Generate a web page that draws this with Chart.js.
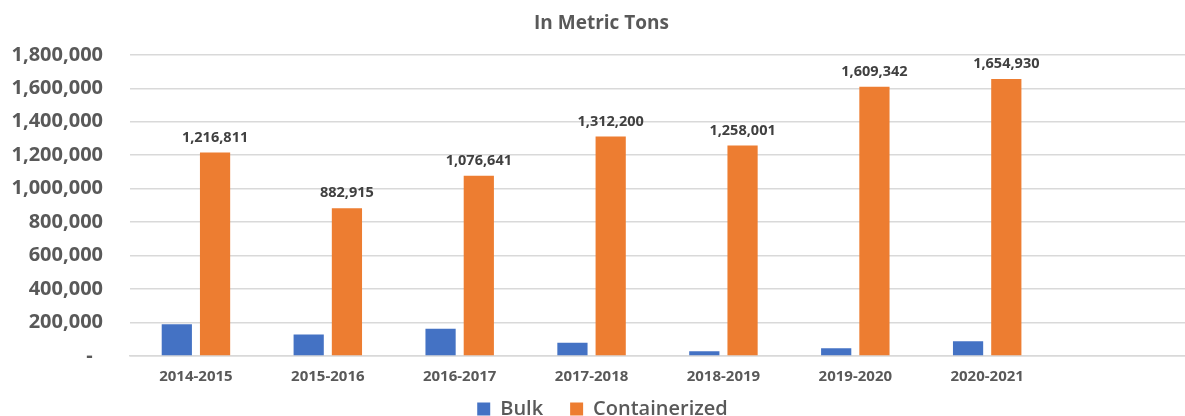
<!DOCTYPE html>
<html lang="en">
<head>
    <meta charset="UTF-8">
    <title>In Metric Tons</title>
    <script src="https://cdn.jsdelivr.net/npm/chart.js"></script>
    <style>
        body {
            margin: 0;
            padding: 0;
            background: #ffffff;
        }
        #chartBox {
            width: 1185px;
            height: 416px;
            position: relative;
        }
    </style>
</head>
<body>
    <div id="chartBox">
        <canvas id="myBarChart"></canvas>
    </div>

    <script>
        // years shown on the x axis (last slot is empty, the plot runs on past it)
        const years = ['2014-2015', '2015-2016', '2016-2017', '2017-2018', '2018-2019', '2019-2020', '2020-2021', ''];
        const bulk = [189000, 129000, 163000, 79000, 28000, 46000, 88000];
        const containerized = [1216811, 882915, 1076641, 1312200, 1258001, 1609342, 1654930];
        const yTicks = [0, 200000, 400000, 600000, 800000, 1000000, 1200000, 1400000, 1600000, 1800000];

        const grey = '#595959';
        const fontName = "'Open Sans', sans-serif";

        // value labels on top of the orange bars
        const barLabels = {
            id: 'barLabels',
            afterDatasetsDraw(chart) {
                const ctx = chart.ctx;
                const meta = chart.getDatasetMeta(1);
                ctx.save();
                ctx.font = 'bold 14.5px ' + fontName;
                ctx.fillStyle = '#404040';
                ctx.textAlign = 'center';
                ctx.textBaseline = 'middle';
                meta.data.forEach((bar, i) => {
                    ctx.fillText(containerized[i].toLocaleString('en-US'), bar.x, bar.y - 15);
                });
                ctx.restore();
            }
        };

        // title and legend sit a little right of the canvas centre in the original
        const nudge = {
            id: 'nudge',
            afterLayout(chart) {
                chart.legend.left += 10;
                chart.legend.right += 10;
                chart.titleBlock.left += 9;
                chart.titleBlock.right += 9;
            }
        };

        const barCtx = document.getElementById('myBarChart').getContext('2d');
        let myBarChart = new Chart(barCtx, {
            type: 'bar',
            data: {
                labels: years,
                datasets: [{
                    label: 'Bulk',
                    data: bulk,
                    backgroundColor: '#4472C4',
                },
                {
                    label: 'Containerized',
                    data: containerized,
                    backgroundColor: '#ED7D31',
                }],
            },
            options: {
                responsive: true,
                maintainAspectRatio: false,
                animation: false,
                categoryPercentage: 0.58,
                barPercentage: 0.79,
                layout: {
                    padding: { left: 0, right: 0, top: 0, bottom: -13 }
                },
                plugins: {
                    title: {
                        display: true,
                        text: 'In Metric Tons',
                        color: grey,
                        font: { family: fontName, size: 19, weight: 'bold' },
                        padding: { top: 12, bottom: 20 }
                    },
                    legend: {
                        position: 'bottom',
                        labels: {
                            color: grey,
                            boxWidth: 13,
                            boxHeight: 13,
                            padding: 1,
                            font: { family: fontName, size: 20, weight: '600' },
                            // extra room after "Bulk", as in the original legend
                            generateLabels: (chart) => {
                                const items = Chart.defaults.plugins.legend.labels.generateLabels(chart);
                                items[0].text = items[0].text + '     ';
                                return items;
                            }
                        }
                    },
                    tooltip: { enabled: false }
                },
                scales: {
                    x: {
                        grid: { display: false, drawTicks: false },
                        border: { color: '#d9d9d9', width: 1.5 },
                        ticks: {
                            color: grey,
                            padding: 12,
                            maxRotation: 0,
                            autoSkip: false,
                            font: { family: fontName, size: 15, weight: 'bold' }
                        }
                    },
                    y: {
                        min: 0,
                        max: 1800000,
                        afterFit: (scale) => { scale.width = 130; },
                        afterBuildTicks: (scale) => {
                            scale.ticks = yTicks.map(v => ({ value: v }));
                        },
                        grid: { color: '#d9d9d9', lineWidth: 1.5, drawTicks: false },
                        border: { display: false },
                        ticks: {
                            color: grey,
                            padding: 27,
                            font: { family: fontName, size: 20, weight: 'bold' },
                            callback: (v) => v === 0 ? '-  ' : v.toLocaleString('en-US')
                        }
                    }
                }
            },
            plugins: [barLabels, nudge]
        });
    </script>
</body>
</html>
